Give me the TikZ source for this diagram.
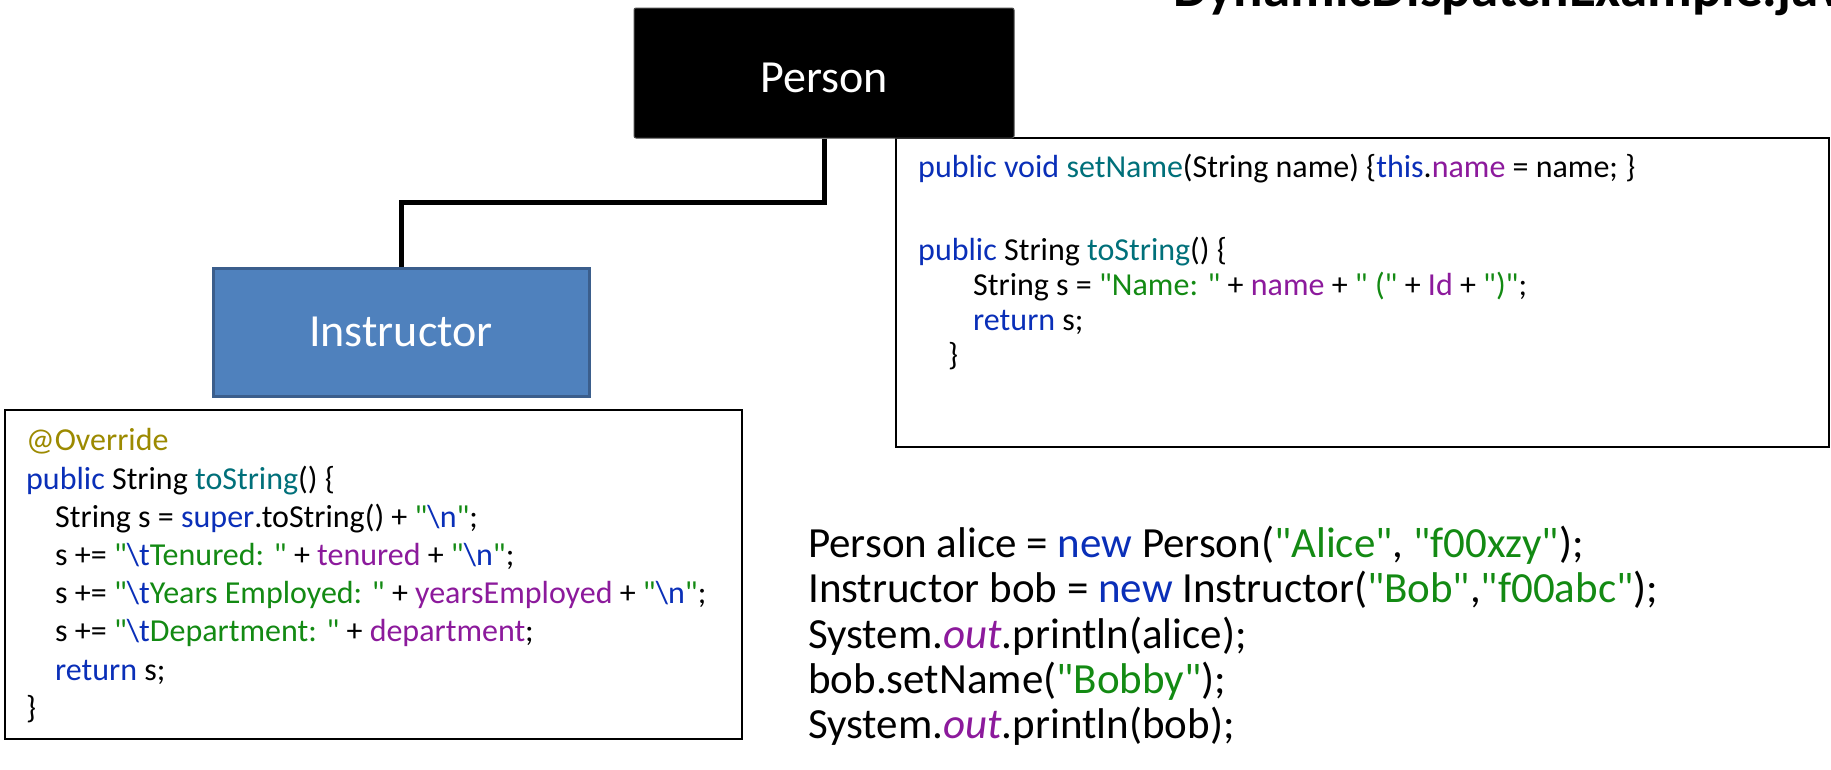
\documentclass[tikz,border=0pt]{standalone}
\usepackage{fontspec}
\setmainfont{Carlito}[Ligatures=TeXOff]
\usetikzlibrary{calc}
\definecolor{jblue}{HTML}{0A2FB8}
\definecolor{jteal}{HTML}{00707A}
\definecolor{jgreen}{HTML}{138A13}
\definecolor{jpurple}{HTML}{8C1A9C}
\definecolor{jolive}{HTML}{9C8A00}
\definecolor{instrfill}{HTML}{4F81BD}
\definecolor{instrline}{HTML}{3B5E8C}
\newcommand\jK[1]{\textcolor{jblue}{#1}}
\newcommand\jM[1]{\textcolor{jteal}{#1}}
\newcommand\jS[1]{\textcolor{jgreen}{#1}}
\newcommand\jF[1]{\textcolor{jpurple}{#1}}
\newcommand\jNL{\jS{"}\jK{\textbackslash n}\jS{"}}
\newcommand\jTB{\jK{\textbackslash t}}
\tikzset{
  codeline/.style={anchor=base west, inner sep=0pt, font=\fontsize{32}{38}\selectfont},
  bigline/.style={anchor=base west, inner sep=0pt, font=\fontsize{43}{50}\selectfont},
  codebox/.style={draw=black, line width=1.6pt, fill=white, inner sep=0pt},
  classbox/.style={inner sep=0pt, text=white, font=\fontsize{46}{54}\selectfont},
  inherit/.style={draw=black, line width=5pt},
}
\begin{document}
\begin{tikzpicture}[x=1pt,y=-1pt]
\useasboundingbox (0,0) rectangle (1831,769);
\clip (0,0) rectangle (1831,769);

% title (clipped at top)
\node[anchor=base west, inner sep=0pt, font=\fontsize{55}{66}\selectfont\bfseries] (title) at (1173,6) {DynamicDispatchExample.java};

% right code box
\node[codebox, minimum width=933pt, minimum height=309pt] (rbox) at (1362.5,292.5) {};
% left code box
\node[codebox, minimum width=737pt, minimum height=329pt] (lbox) at (373.5,574.5) {};

% class boxes
\node[classbox, fill=black, draw=black!70, line width=1pt, rounded corners=2pt,
      text height=38pt, text depth=0pt,
      minimum width=380pt, minimum height=130pt] (person) at (824,73) {Person};
\node[classbox, fill=instrfill, draw=instrline, line width=3pt,
      minimum width=376pt, minimum height=128pt] (instr) at (401,332) {Instructor};

% connector
\coordinate (mid) at ($(person.south)!0.5!(instr.north)$);
\draw[inherit] (person.south) |- (mid) -| (instr.north);

% right code
\node[codeline] (r1) at (918,177) {\jK{public void} \jM{setName}(String name) \{\jK{this}.\jF{name} = name; \}};
\node[codeline] (r2) at (918,260) {\jK{public} String \jM{toString}() \{};
\node[codeline] (r3) at (973,295) {String s = \jS{"Name: "} + \jF{name} + \jS{" ("} + \jF{Id} + \jS{")"};};
\node[codeline] (r4) at (973,330) {\jK{return} s;};
\node[codeline] (r5) at (948,365) {\}};

% left code
\node[codeline] (l1) at (26,450) {\textcolor{jolive}{@Override}};
\node[codeline] (l2) at (26,489) {\jK{public} String \jM{toString}() \{};
\node[codeline] (l3) at (55,527) {String s = \jK{super}.toString() + \jNL;};
\node[codeline] (l4) at (55,565) {s += \jS{"}\jTB\jS{Tenured: "} + \jF{tenured} + \jNL;};
\node[codeline] (l5) at (55,603) {s += \jS{"}\jTB\jS{Years Employed: "} + \jF{yearsEmployed} + \jNL;};
\node[codeline] (l6) at (55,641) {s += \jS{"}\jTB\jS{Department: "} + \jF{department};};
\node[codeline] (l7) at (55,680) {\jK{return} s;};
\node[codeline] (l8) at (26,718) {\}};

% bottom code
\node[bigline] (b1) at (808,557) {Person alice = \jK{new} Person(\jS{"Alice"}, \jS{"f00xzy"});};
\node[bigline] (b2) at (808,602) {Instructor bob = \jK{new} Instructor(\jS{"Bob"},\jS{"f00abc"});};
\node[bigline] (b3) at (808,648) {System.\jF{\itshape out}.println(alice);};
\node[bigline] (b4) at (808,693) {bob.setName(\jS{"Bobby"});};
\node[bigline] (b5) at (808,738) {System.\jF{\itshape out}.println(bob);};
\end{tikzpicture}
\end{document}
